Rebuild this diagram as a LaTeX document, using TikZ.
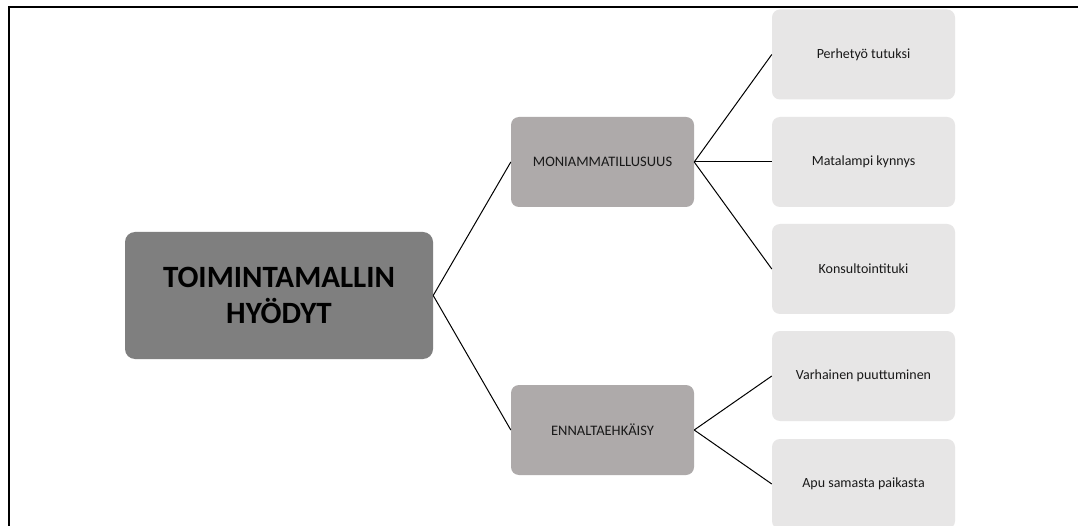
\documentclass[tikz,border=0pt]{standalone}
\usepackage{fontspec}
\setmainfont{Carlito}
\definecolor{rootfill}{HTML}{7F7F7F}
\definecolor{midfill}{HTML}{AEAAAA}
\definecolor{leaffill}{HTML}{E7E6E6}
\begin{document}
\begin{tikzpicture}[x=1pt,y=-1pt,
  rootbox/.style={draw=none,fill=rootfill,rounded corners=10pt,minimum width=308pt,minimum height=127pt,inner sep=0pt,align=center,font=\fontsize{31}{36}\selectfont\bfseries,text=black},
  midbox/.style={draw=none,fill=midfill,rounded corners=8pt,minimum width=183pt,minimum height=90pt,inner sep=0pt,font=\fontsize{14.5}{17}\selectfont,text=black!90},
  leafbox/.style={draw=none,fill=leaffill,rounded corners=8pt,minimum width=183pt,minimum height=90pt,inner sep=0pt,font=\fontsize{14}{17}\selectfont,text=black!90},
  conn/.style={draw=black,line width=1pt},
  frame/.style={draw=black,line width=2pt}]
\clip (0,0) rectangle (1078,526);
\fill[white] (0,0) rectangle (1078,526);
\draw[frame] (8.5,530) -- (8.5,7.5) -- (1080,7.5);
\node[rootbox] (root) at (279,295.5) {TOIMINTAMALLIN\\HYÖDYT};
\node[midbox] (moni) at (602.5,162) {MONIAMMATILLUSUUS};
\node[midbox] (enna) at (602.5,430) {ENNALTAEHKÄISY};
\node[leafbox] (l1) at (863.5,54.5) {Perhetyö tutuksi};
\node[leafbox] (l2) at (863.5,162) {Matalampi kynnys};
\node[leafbox] (l3) at (863.5,269) {Konsultointituki};
\node[leafbox] (l4) at (863.5,376) {Varhainen puuttuminen};
\node[leafbox] (l5) at (863.5,484) {Apu samasta paikasta};
\draw[conn] (root.east) -- (moni.west);
\draw[conn] (root.east) -- (enna.west);
\draw[conn] (moni.east) -- (l1.west);
\draw[conn] (moni.east) -- (l2.west);
\draw[conn] (moni.east) -- (l3.west);
\draw[conn] (enna.east) -- (l4.west);
\draw[conn] (enna.east) -- (l5.west);
\end{tikzpicture}
\end{document}
